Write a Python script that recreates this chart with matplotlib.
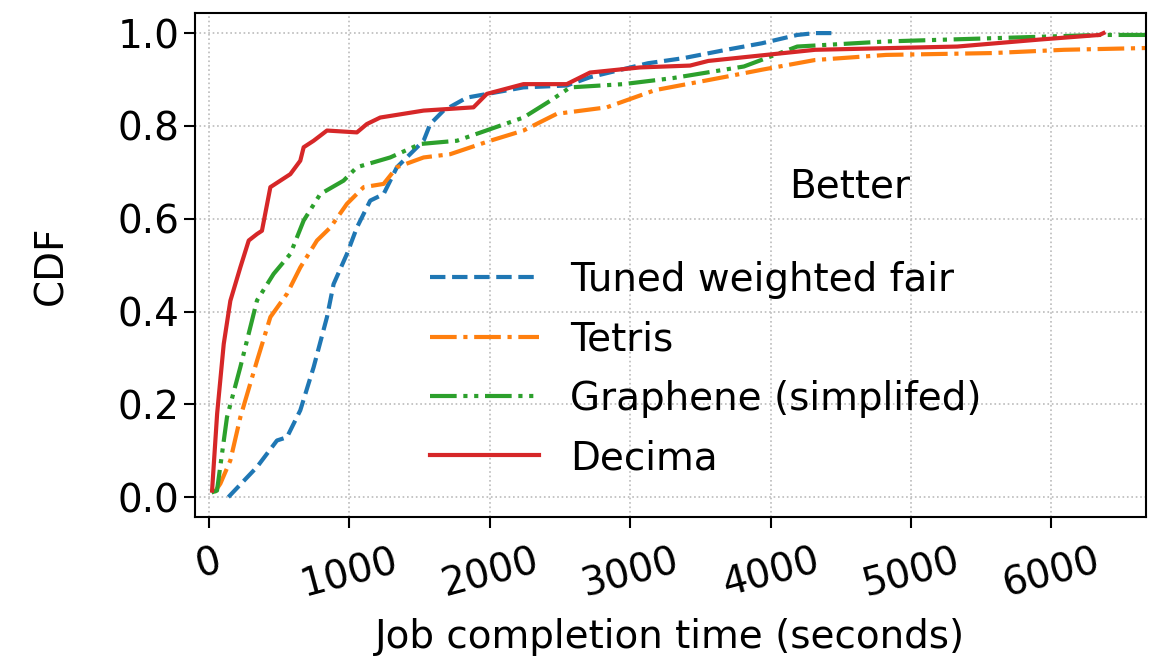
import matplotlib
matplotlib.use("Agg")
import matplotlib.pyplot as plt

# CDF of job completion times per scheduler
labels = ["Tuned weighted fair", "Tetris", "Graphene (simplifed)", "Decima"]

twf_x = [140, 344, 486, 557, 652, 747, 842, 889, 984, 1055, 1150, 1245, 1340,
         1530, 1577, 1672, 1838, 2241, 2549, 2715, 3127, 3380, 3684, 3937,
         4190, 4317, 4469]
twf_y = [0.0, 0.065, 0.122, 0.129, 0.187, 0.28, 0.388, 0.459, 0.524, 0.581,
         0.639, 0.653, 0.711, 0.768, 0.804, 0.833, 0.861, 0.883, 0.887, 0.905,
         0.935, 0.946, 0.964, 0.978, 0.996, 1.0, 1.0]

tetris_x = [40, 83, 154, 225, 344, 439, 557, 652, 771, 866, 984, 1103, 1245,
            1340, 1530, 1719, 2004, 2241, 2478, 2834, 3177, 3684, 3937, 4317,
            4823, 5583, 6089, 6697]
tetris_y = [0.01, 0.029, 0.079, 0.172, 0.294, 0.388, 0.438, 0.495, 0.553,
            0.581, 0.632, 0.668, 0.675, 0.711, 0.732, 0.739, 0.768, 0.79,
            0.826, 0.84, 0.877, 0.906, 0.921, 0.942, 0.953, 0.957, 0.964, 0.968]

graphene_x = [20, 59, 130, 225, 344, 462, 581, 676, 794, 960, 1055, 1292,
              1506, 1767, 2004, 2241, 2431, 2573, 2952, 3304, 3810, 4190,
              4823, 5583, 6342, 6697]
graphene_y = [0.01, 0.014, 0.172, 0.28, 0.424, 0.481, 0.524, 0.596, 0.653,
              0.682, 0.711, 0.732, 0.761, 0.768, 0.793, 0.818, 0.854, 0.883,
              0.89, 0.903, 0.928, 0.971, 0.982, 0.989, 0.996, 0.996]

decima_x = [24, 60, 107, 154, 225, 285, 344, 379, 439, 510, 581, 652, 676,
            747, 842, 1055, 1126, 1221, 1530, 1885, 1980, 2241, 2549, 2715,
            3071, 3427, 3557, 4317, 5329, 5912, 6342, 6370]
decima_y = [0.014, 0.18, 0.33, 0.423, 0.495, 0.553, 0.567, 0.574, 0.668,
            0.682, 0.696, 0.725, 0.754, 0.768, 0.79, 0.786, 0.804, 0.818,
            0.833, 0.84, 0.869, 0.89, 0.89, 0.915, 0.926, 0.93, 0.94, 0.964,
            0.971, 0.986, 0.996, 1.0]

xticks = [0, 1000, 2000, 3000, 4000, 5000, 6000]
yticks = [0.0, 0.2, 0.4, 0.6, 0.8, 1.0]

FS = 28

fig = plt.figure(figsize=(11.56, 6.57), dpi=100)
ax = fig.add_axes([0.169, 0.213, 0.822, 0.767])

ax.plot(twf_x, twf_y, color="tab:blue", lw=3, ls="--", label=labels[0])
ax.plot(tetris_x, tetris_y, color="tab:orange", lw=3, ls="-.", label=labels[1])
ax.plot(graphene_x, graphene_y, color="tab:green", lw=3,
        ls=(0, (6.4, 1.6, 1, 1.6, 1, 1.6)), label=labels[2])
ax.plot(decima_x, decima_y, color="tab:red", lw=3, ls="-", label=labels[3])

ax.set_xlim(-95, 6670)
ax.set_ylim(-0.043, 1.043)
ax.set_xticks(xticks)
ax.set_yticks(yticks)
ax.set_xticklabels([str(t) for t in xticks], rotation=15)
ax.set_yticklabels([f"{t:.1f}" for t in yticks])
ax.tick_params(labelsize=FS, length=8, width=1.5)
ax.tick_params(axis="x", pad=10)
ax.grid(True, ls=":", color="#bbbbbb", lw=1.2)
for s in ax.spines.values():
    s.set_linewidth(1.5)

ax.set_xlabel("Job completion time (seconds)", fontsize=FS, labelpad=10)
ax.set_ylabel("CDF", fontsize=FS, labelpad=34)

ax.text(4560, 0.67, "Better", fontsize=FS, ha="center", va="center")

ax.legend(loc="lower left", bbox_to_anchor=(0.21, 0.01), frameon=False,
          fontsize=FS, handlelength=2.8, labelspacing=0.55, handletextpad=0.8)

fig.savefig("out.png", dpi=100)
